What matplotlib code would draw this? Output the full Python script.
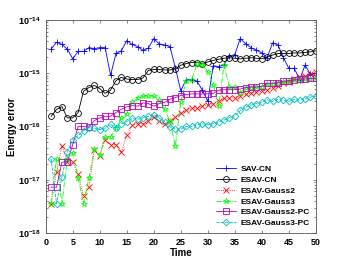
import numpy as np
import matplotlib
matplotlib.use("Agg")
import matplotlib.pyplot as plt

# time steps
t = np.arange(1, 51)

# log10 of the energy error
sav_cn = [-14.55, -14.42, -14.46, -14.55, -14.73, -14.59, -14.59, -14.52, -14.54, -14.52,
          -14.52, -15.04, -14.63, -14.58, -14.39, -14.46, -14.50, -14.57, -14.53, -14.35,
          -14.45, -14.47, -14.50, -14.90, -15.33, -15.12, -15.12, -15.15, -15.32, -15.53,
          -14.86, -14.88, -14.84, -14.68, -14.65, -14.35, -14.45, -14.52, -14.57, -14.62,
          -14.71, -14.43, -14.47, -14.71, -14.91, -14.91, -15.12, -14.85, -15.02, -15.00]
esav_cn = [-15.81, -15.68, -15.63, -15.84, -15.84, -15.74, -15.34, -15.27, -15.23, -15.29,
           -15.38, -15.32, -15.14, -15.08, -15.11, -15.12, -15.12, -15.09, -14.95, -14.93,
           -14.93, -14.94, -14.94, -14.92, -14.85, -14.82, -14.80, -14.80, -14.82, -14.79,
           -14.76, -14.74, -14.72, -14.71, -14.72, -14.73, -14.72, -14.71, -14.72, -14.73,
           -14.70, -14.66, -14.63, -14.63, -14.63, -14.62, -14.62, -14.61, -14.60, -14.58]
esav_gauss2 = [-17.45, -16.86, -16.37, -16.67, -16.67, -16.90, -17.30, -17.14, -16.45, -16.55,
               -16.25, -16.34, -16.34, -16.48, -16.16, -15.98, -15.95, -15.95, -15.89, -15.83,
               -15.90, -15.96, -15.90, -15.83, -15.74, -15.70, -15.66, -15.65, -15.62, -15.60,
               -15.57, -15.52, -15.47, -15.47, -15.46, -15.42, -15.40, -15.37, -15.36, -15.34,
               -15.31, -15.27, -15.24, -15.19, -15.16, -15.11, -15.08, -15.05, -15.02, -14.98]
esav_gauss3 = [-17.45, -16.61, -17.45, -16.61, -16.50, -16.97, -17.45, -16.97, -16.42, -16.54,
               -16.20, -16.20, -16.03, -15.84, -15.76, -15.55, -15.47, -15.43, -15.43, -15.43,
               -15.51, -15.68, -15.90, -16.37, -15.54, -15.15, -15.12, -14.83, -14.84, -14.97,
               -15.22, -15.62, -14.85, -15.26, -15.26, -15.37, -15.28, -15.27, -15.26, -15.26,
               -15.21, -15.20, -15.18, -15.16, -15.14, -15.13, -15.12, -15.11, -15.11, -15.10]
esav_gauss2_pc = [-17.14, -17.14, -16.67, -16.67, -16.34, -16.00, -16.00, -16.02, -15.89, -15.84,
                  -15.81, -15.81, -15.74, -15.68, -15.63, -15.61, -15.62, -15.56, -15.57, -15.62,
                  -15.57, -15.55, -15.49, -15.46, -15.42, -15.40, -15.39, -15.39, -15.39, -15.39,
                  -15.38, -15.32, -15.31, -15.31, -15.31, -15.30, -15.27, -15.26, -15.26, -15.25,
                  -15.19, -15.19, -15.18, -15.15, -15.14, -15.13, -15.11, -15.11, -15.10, -15.10]
esav_gauss3_pc = [-16.61, -17.45, -16.95, -16.48, -16.25, -16.17, -16.08, -16.03, -16.03, -16.06,
                  -16.03, -15.96, -16.03, -15.95, -15.91, -15.85, -15.87, -15.84, -15.81, -15.79,
                  -15.84, -15.91, -16.01, -16.05, -16.05, -16.00, -16.00, -15.97, -15.95, -15.97,
                  -15.95, -15.92, -15.88, -15.84, -15.80, -15.70, -15.64, -15.60, -15.57, -15.54,
                  -15.50, -15.53, -15.49, -15.51, -15.53, -15.49, -15.51, -15.48, -15.45, -15.43]

labels = ["SAV-CN", "ESAV-CN", "ESAV-Gauss2", "ESAV-Gauss3", "ESAV-Gauss2-PC", "ESAV-Gauss3-PC"]
x_ticks = [0, 5, 10, 15, 20, 25, 30, 35, 40, 45, 50]

plt.rcParams["font.family"] = ["Liberation Sans", "DejaVu Sans"]
plt.rcParams["font.weight"] = "bold"

fig = plt.figure(figsize=(3.49, 2.62), dpi=100)
ax = fig.add_axes([0.131, 0.111, 0.774, 0.813])

series = [sav_cn, esav_cn, esav_gauss2, esav_gauss3, esav_gauss2_pc, esav_gauss3_pc]
styles = [("b", "-", "+"), ("k", "-", "o"), ("r", ":", "x"),
          ("#00ff00", "-.", "*"), ("m", "-", "s"), ("c", "--", "D")]
for vals, lab, (col, ls, mk) in zip(series, labels, styles):
    ms = 4.2 if mk != "D" else 3.4
    ax.semilogy(t, 10.0 ** np.array(vals), color=col, linestyle=ls, marker=mk,
                markersize=ms, markerfacecolor="none", markeredgewidth=0.6,
                linewidth=0.6, label=lab)

ax.set_xlim(0, 50)
ax.set_ylim(1e-18, 1e-14)
ax.set_xticks(x_ticks)
ax.set_yticks([1e-18, 1e-17, 1e-16, 1e-15, 1e-14])
ax.tick_params(which="both", direction="in", top=True, right=True, labelsize=6.5,
               width=0.5, color="#555555")
ax.tick_params(which="major", length=2.5)
ax.tick_params(which="minor", length=1.5)
for sp in ax.spines.values():
    sp.set_linewidth(0.6)
    sp.set_color("#555555")

ax.set_xlabel("Time", fontsize=7, fontweight="bold", labelpad=1)
ax.set_ylabel("Energy error", fontsize=7, fontweight="bold", labelpad=1)

leg = ax.legend(loc="lower right", fontsize=6, frameon=False, handlelength=2.4,
                labelspacing=0.35, borderaxespad=0.3, handletextpad=0.5)

fig.savefig("out.png", dpi=100)
